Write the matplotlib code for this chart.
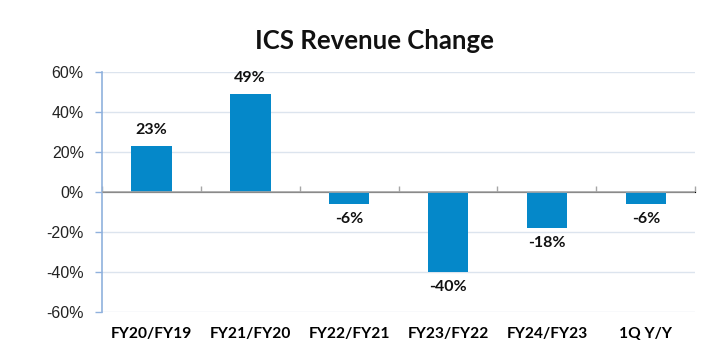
import matplotlib.pyplot as plt
import numpy as np

periods = ["FY20/FY19", "FY21/FY20", "FY22/FY21", "FY23/FY22", "FY24/FY23", "1Q Y/Y"]
change_pct = [23, 49, -6, -40, -18, -6]
y_ticks = [-60, -40, -20, 0, 20, 40, 60]

BAR_COLOR = "#0588C9"
GRID_COLOR = "#DCE4EE"


def main():
    fig = plt.figure(figsize=(7.28, 3.58), dpi=100)
    ax = fig.add_axes([0.140, 0.128, 0.815, 0.671])

    x = np.arange(len(periods))
    ax.bar(x, change_pct, width=0.41, color=BAR_COLOR, zorder=3)

    ax.set_xlim(-0.5, len(periods) - 0.5)
    ax.set_ylim(-60, 60)

    # grid + zero line
    for v in y_ticks:
        if v == 0:
            ax.axhline(0, color="#A6A6A6", lw=1.2, zorder=4)
        else:
            ax.axhline(v, color=GRID_COLOR, lw=1.0, zorder=1)

    ax.set_yticks(y_ticks)
    ax.set_yticklabels([f"{v}%" for v in y_ticks], fontsize=11.5,
                       family="Liberation Sans", color="#222222")
    ax.tick_params(axis="y", length=5, color="#8FB1DD", width=1, pad=8)

    ax.set_xticks(x)
    ax.set_xticklabels(periods, fontsize=11.2, fontweight="bold", family="Lato")
    ax.tick_params(axis="x", length=0, pad=11)

    for side in ["top", "right", "bottom"]:
        ax.spines[side].set_visible(False)
    ax.spines["left"].set_color("#8FB1DD")
    ax.spines["left"].set_linewidth(1.2)

    # category boundary ticks on the zero line
    sec = ax.secondary_xaxis(0.5)
    sec.set_xticks(np.arange(len(periods) + 1) - 0.5)
    sec.set_xticklabels([])
    sec.tick_params(length=4, color="#A6A6A6", width=1, direction="out")
    sec.spines["bottom"].set_visible(False)

    for xi, v in zip(x, change_pct):
        off = 4.5 if v > 0 else -4.0
        ax.text(xi, v + off, f"{v}%", ha="center",
                va="bottom" if v > 0 else "top",
                fontsize=11.5, fontweight="bold", family="Lato", color="#111111")

    fig.text(0.515, 0.885, "ICS Revenue Change", ha="center", va="center",
             fontsize=18.5, fontweight="bold", family="Lato", color="#111111")

    fig.savefig("out.png", dpi=100)
    plt.close(fig)


if __name__ == "__main__":
    main()
